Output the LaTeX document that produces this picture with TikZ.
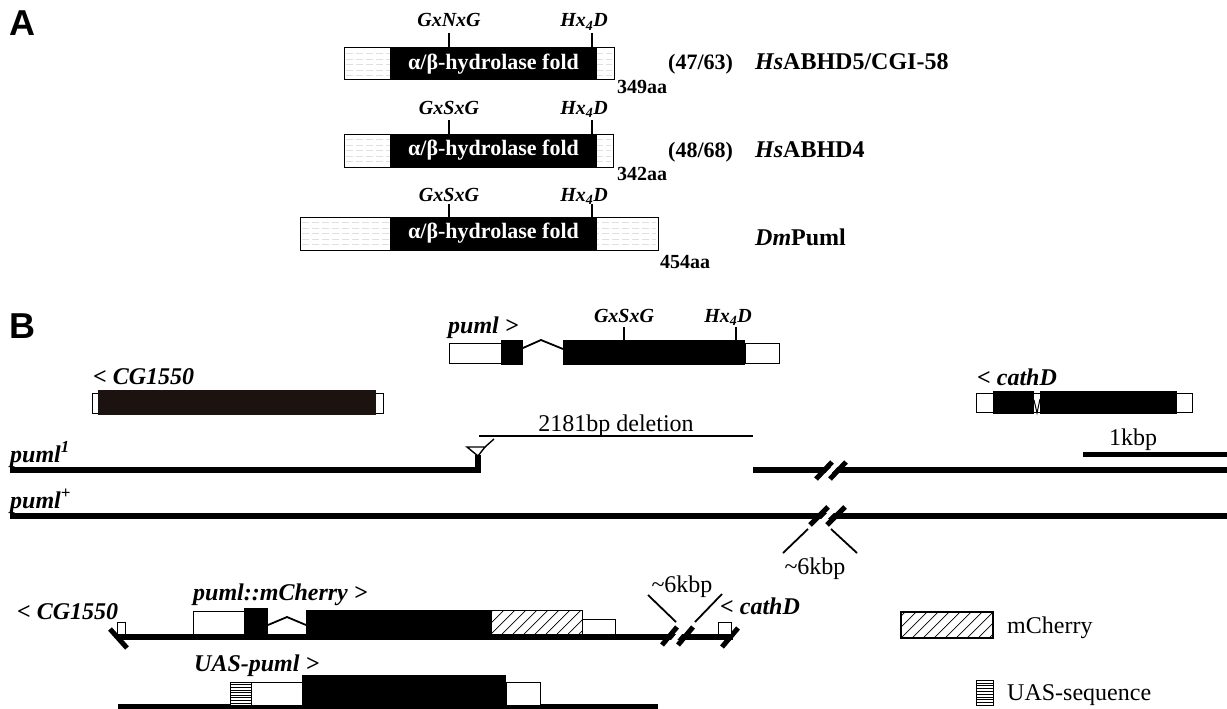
\documentclass[tikz,border=0pt]{standalone}
\usepackage{fontspec}
\setmainfont{Liberation Serif}
\newfontfamily\sansb{Liberation Sans}
\newcommand\protbox[4]{%
  \fill[white] (#1,#2) rectangle (#3,#4);
  \foreach \k in {1,...,5}{\draw[black!12, line width=0.6pt, dash pattern=on 7pt off 3pt] (#1+2,#2+\k*5.5) -- (#3-2,#2+\k*5.5);}
  \fill[black] (390,#2) rectangle (597,#4);
  \draw[line width=1pt] (#1,#2) rectangle (#3,#4);
}
\definecolor{cgdark}{RGB}{28,18,16}
\begin{document}
\begin{tikzpicture}[x=1pt,y=-1pt,
  lab/.style={font=\fontsize{24}{26}\selectfont\bfseries\itshape, inner sep=0pt},
  txt/.style={font=\fontsize{24}{26}\selectfont, inner sep=0pt},
  panel/.style={font=\sansb\fontsize{36}{38}\selectfont\bfseries, inner sep=0pt},
  motif/.style={font=\fontsize{20}{22}\selectfont\bfseries\itshape, inner sep=0pt},
  aa/.style={font=\fontsize{20}{22}\selectfont\bfseries, inner sep=0pt},
  ratio/.style={font=\fontsize{22}{24}\selectfont\bfseries, inner sep=0pt},
  prot/.style={font=\fontsize{24}{26}\selectfont\bfseries, inner sep=0pt},
  fold/.style={font=\fontsize{22}{24}\selectfont\bfseries, text=white, inner sep=0pt},
  utr/.style={draw=black, fill=white, line width=1pt},
  exon/.style={fill=black},
  chrom/.style={line width=6pt},
  brk/.style={line width=5pt},
  thinl/.style={line width=1.8pt},
  tickl/.style={line width=2.5pt},
  gapl/.style={white, line width=4.5pt},
]
\useasboundingbox (0,0) rectangle (1227,709);

% ---------- Panel A ----------
\node[panel, anchor=base west] (A) at (9,36) {A};

\protbox{344}{48}{614}{80}
\node[fold] (f1) at (493.5,64.5) {α/β-hydrolase fold};
\draw[tickl] (449,33) -- (449,48);
\draw[tickl] (592,33) -- (592,48);
\node[motif, anchor=base] (g1) at (449,27) {GxNxG};
\node[motif, anchor=base] (h1) at (584,27) {Hx\textsubscript{4}D};
\node[aa, anchor=base west] (aa1) at (617,93) {349aa};
\node[ratio, anchor=base west] (r1) at (668,70) {(47/63)};
\node[prot, anchor=base west] (p1) at (755,70) {\textit{Hs}ABHD5/CGI-58};

\protbox{344}{134}{613}{167}
\node[fold] (f2) at (493.5,150.5) {α/β-hydrolase fold};
\draw[tickl] (449,120) -- (449,134);
\draw[tickl] (592,120) -- (592,134);
\node[motif, anchor=base] (g2) at (449,114) {GxSxG};
\node[motif, anchor=base] (h2) at (584,114) {Hx\textsubscript{4}D};
\node[aa, anchor=base west] (aa2) at (617,180) {342aa};
\node[ratio, anchor=base west] (r2) at (668,157) {(48/68)};
\node[prot, anchor=base west] (p2) at (755,157) {\textit{Hs}ABHD4};

\protbox{300}{217}{658}{250}
\node[fold] (f3) at (493.5,233.5) {α/β-hydrolase fold};
\draw[tickl] (449,204) -- (449,217);
\draw[tickl] (592,204) -- (592,217);
\node[motif, anchor=base] (g3) at (449,201) {GxSxG};
\node[motif, anchor=base] (h3) at (584,201) {Hx\textsubscript{4}D};
\node[aa, anchor=base west] (aa3) at (660,268) {454aa};
\node[prot, anchor=base west] (p3) at (755,245) {\textit{Dm}Puml};

% ---------- Panel B ----------
\node[panel, anchor=base west] (B) at (9,338) {B};

% puml gene
\node[lab, anchor=base west] (pumlL) at (448,333) {puml >};
\draw[utr] (449,343) rectangle (501,363);
\fill[exon] (501,340) rectangle (523,365);
\draw[thinl] (523,348) -- (541,340) -- (563,349);
\fill[exon] (563,340) rectangle (745,365);
\draw[utr] (745,343) rectangle (779,363);
\draw[tickl] (624,327) -- (624,340);
\draw[tickl] (736,327) -- (736,340);
\node[motif, anchor=base] (g4) at (624,322) {GxSxG};
\node[motif, anchor=base] (h4) at (728,322) {Hx\textsubscript{4}D};

% CG1550
\node[lab, anchor=base west] (cgL) at (93,384) {< CG1550};
\draw[utr] (92,393) rectangle (383,413);
\fill[cgdark] (98,390) rectangle (376,415);

% cathD
\node[lab, anchor=base west] (cathL) at (977,385) {< cathD};
\draw[utr] (976,393) rectangle (1192,412);
\fill[exon] (993,391) rectangle (1034,414);
\fill[exon] (1040,391) rectangle (1177,414);
\draw[line width=1pt] (1034,400) -- (1037,413) -- (1040,399);

% deletion
\draw[line width=2.5pt] (479,436) -- (753,436);
\node[txt, anchor=base] (del) at (616,431) {2181bp deletion};

% scale bar
\draw[brk] (1083,454) -- (1227,454);
\node[txt, anchor=base] (kb) at (1133,445) {1kbp};

% puml1
\node[lab, anchor=base west] (p1L) at (10,462) {puml\textsuperscript{1}};
\draw[chrom] (10,470) -- (478,470) -- (478,455);
\draw[line width=1.4pt] (478,456) -- (467,447) -- (485,447) -- (478,456);
\draw[line width=1.4pt] (485,447) -- (494,439);
\draw[chrom] (753,470) -- (1227,470);
\draw[gapl] (823,479) -- (839,462);
\draw[brk] (816,479) -- (832,462);
\draw[brk] (830,479) -- (846,462);

% puml+
\node[lab, anchor=base west] (ppL) at (10,508) {puml\textsuperscript{+}};
\draw[chrom] (10,516) -- (1227,516);
\draw[gapl] (818.5,525) -- (836.5,507);
\draw[brk] (810,525) -- (828,507);
\draw[brk] (827,525) -- (845,507);
\draw[thinl] (808,529) -- (783,553);
\draw[thinl] (831,529) -- (857,553);
\node[txt, anchor=base] (k6a) at (815,574) {\textasciitilde6kbp};

% puml::mCherry construct
\node[lab, anchor=base west] (cg2L) at (17,619) {< CG1550};
\node[lab, anchor=base west] (mchL) at (193,600) {puml::mCherry >};
\draw[chrom] (118,637) -- (733,637);
\draw[gapl] (670,645) -- (685,627);
\draw[brk] (662,645) -- (677,627);
\draw[brk] (678,645) -- (693,627);
\draw[brk] (110,629) -- (127,648);
\draw[brk] (722,647) -- (738,628);
\draw[utr] (117,622) rectangle (125,634);
\draw[utr] (718,622) rectangle (731,634);
\draw[utr] (193,611) rectangle (244,634);
\fill[exon] (244,608) rectangle (268,634);
\draw[thinl] (268,625) -- (287,617) -- (306,625);
\fill[exon] (306,610) rectangle (491,634);
\draw[utr] (491,610) rectangle (582,634);
\begin{scope}
  \clip (491,610) rectangle (582,634);
  \foreach \i in {-22,-11,...,99} {\draw[line width=0.7pt] (491+\i,634) -- (515+\i,610);}
\end{scope}
\draw[line width=1pt] (491,610) rectangle (582,634);
\draw[utr] (582,619) rectangle (615,634);
\draw[thinl] (648,595) -- (676,622);
\draw[thinl] (695,622) -- (722,594);
\node[txt, anchor=base] (k6b) at (682,592) {\textasciitilde6kbp};
\node[lab, anchor=base west] (cath2L) at (720,614) {< cathD};

% UAS-puml construct
\node[lab, anchor=base west] (uasL) at (194,671) {UAS-puml >};
\draw[brk] (118,706) -- (658,706);
\draw[utr] (230,682) rectangle (251,705);
\foreach \j in {1,...,8} {\draw[line width=0.5pt] (230,682+\j*2.6) -- (251,682+\j*2.6);}
\draw[utr] (251,682) rectangle (302,705);
\fill[exon] (302,675) rectangle (506,705);
\draw[utr] (506,682) rectangle (540,705);

% legend
\draw[line width=1.8pt] (901,612) rectangle (993,638);
\begin{scope}
  \clip (901,612) rectangle (993,638);
  \foreach \i in {-22,-11,...,110} {\draw[line width=0.7pt] (901+\i,638) -- (927+\i,612);}
\end{scope}
\draw[line width=1.8pt] (901,612) rectangle (993,638);
\node[txt, anchor=base west] (legM) at (1007,633) {mCherry};
\draw[line width=1pt] (976,680) rectangle (993,705);
\foreach \j in {1,...,8} {\draw[line width=0.5pt] (976,680+\j*2.8) -- (993,680+\j*2.8);}
\node[txt, anchor=base west] (legU) at (1007,700) {UAS-sequence};
\end{tikzpicture}
\end{document}
